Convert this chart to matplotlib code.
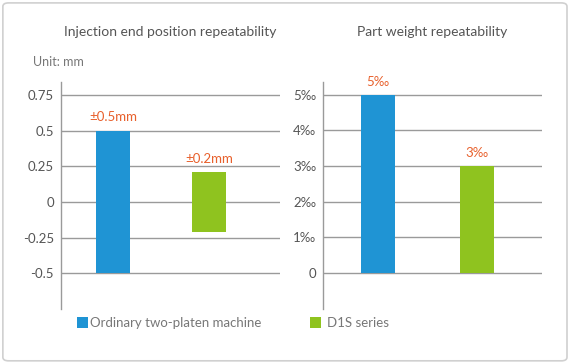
import matplotlib
matplotlib.use("Agg")
import matplotlib.pyplot as plt
from matplotlib.patches import FancyBboxPatch

plt.rcParams["font.family"] = ["Lato", "DejaVu Sans"]

series = ["Ordinary two-platen machine", "D1S series"]
colors = ["#1f94d4", "#8fc31f"]

# left panel: injection end position repeatability, +/- span in mm
inj_span = [0.5, 0.21]
inj_labels = ["±0.5mm", "±0.2mm"]
inj_ticks = [0.75, 0.5, 0.25, 0, -0.25, -0.5]
inj_ticklabels = ["0.75", "0.5", "0.25", "0", "-0.25", "-0.5"]

# right panel: part weight repeatability, per mille
wt_vals = [5, 3]
wt_labels = ["5‰", "3‰"]
wt_ticks = [0, 1, 2, 3, 4, 5]
wt_ticklabels = ["0", "1‰", "2‰", "3‰", "4‰", "5‰"]

txt = "#555555"
label_col = "#e8602c"
grid_col = "#9a9a9a"

fig = plt.figure(figsize=(5.71, 3.63), dpi=100)

border = FancyBboxPatch((0.005, 0.006), 0.988, 0.986, boxstyle="round,pad=0,rounding_size=0.01",
                        transform=fig.transFigure, facecolor="none", edgecolor="#d0d0d0", lw=1.2,
                        zorder=5)
fig.patches.append(border)


def style(ax, ticks, ticklabels):
    for s in ["top", "right", "bottom"]:
        ax.spines[s].set_visible(False)
    ax.spines["left"].set_color(grid_col)
    ax.spines["left"].set_linewidth(1)
    ax.set_xticks([])
    ax.set_yticks(ticks)
    ax.set_yticklabels(ticklabels, fontsize=9.5, color=txt)
    ax.tick_params(axis="y", length=0, pad=5)
    for t in ticks:
        ax.axhline(t, color=grid_col, lw=1, zorder=0)
    ax.patch.set_alpha(0)


# left
ax1 = fig.add_axes([0.1068, 0.1488, 0.3835, 0.6253])
x = [0, 1]
bars1 = ax1.bar(x, [2 * v for v in inj_span], bottom=[-v for v in inj_span], width=0.354,
                color=colors, zorder=2)
bars1[0].set_label(series[0])
for xi, v, lab in zip(x, inj_span, inj_labels):
    ax1.text(xi, v + 0.05, lab, ha="center", va="bottom", color=label_col, fontsize=9.5)
ax1.set_xlim(-0.542, 1.74)
ax1.set_ylim(-0.75, 0.84)
style(ax1, inj_ticks, inj_ticklabels)
ax1.set_title("Injection end position repeatability", fontsize=10, color=txt, pad=33)
ax1.text(-0.13, 1.06, "Unit: mm", transform=ax1.transAxes, fontsize=9, color="#777777",
         ha="left", va="bottom")
ax1.legend(handles=[bars1[0]], loc="upper left", bbox_to_anchor=(0.073, -0.035), frameon=False,
           fontsize=9.5, labelcolor="#777777", handlelength=0.85, handleheight=0.85,
           handletextpad=0.1, borderaxespad=0, borderpad=0)

# right
ax2 = fig.add_axes([0.5657, 0.1488, 0.3835, 0.6253])
bars2 = ax2.bar(x, wt_vals, width=0.343, color=colors, zorder=2)
bars2[1].set_label(series[1])
for xi, v, lab in zip(x, wt_vals, wt_labels):
    ax2.text(xi, v + 0.2, lab, ha="center", va="bottom", color=label_col, fontsize=9.5)
ax2.set_xlim(-0.556, 1.657)
ax2.set_ylim(-1.01, 5.36)
style(ax2, wt_ticks, wt_ticklabels)
ax2.set_title("Part weight repeatability", fontsize=10, color=txt, pad=33)
ax2.legend(handles=[bars2[1]], loc="upper left", bbox_to_anchor=(-0.059, -0.035), frameon=False,
           fontsize=9.5, labelcolor="#777777", handlelength=0.85, handleheight=0.85,
           handletextpad=0.45, borderaxespad=0, borderpad=0)

fig.savefig("out.png", dpi=100)
